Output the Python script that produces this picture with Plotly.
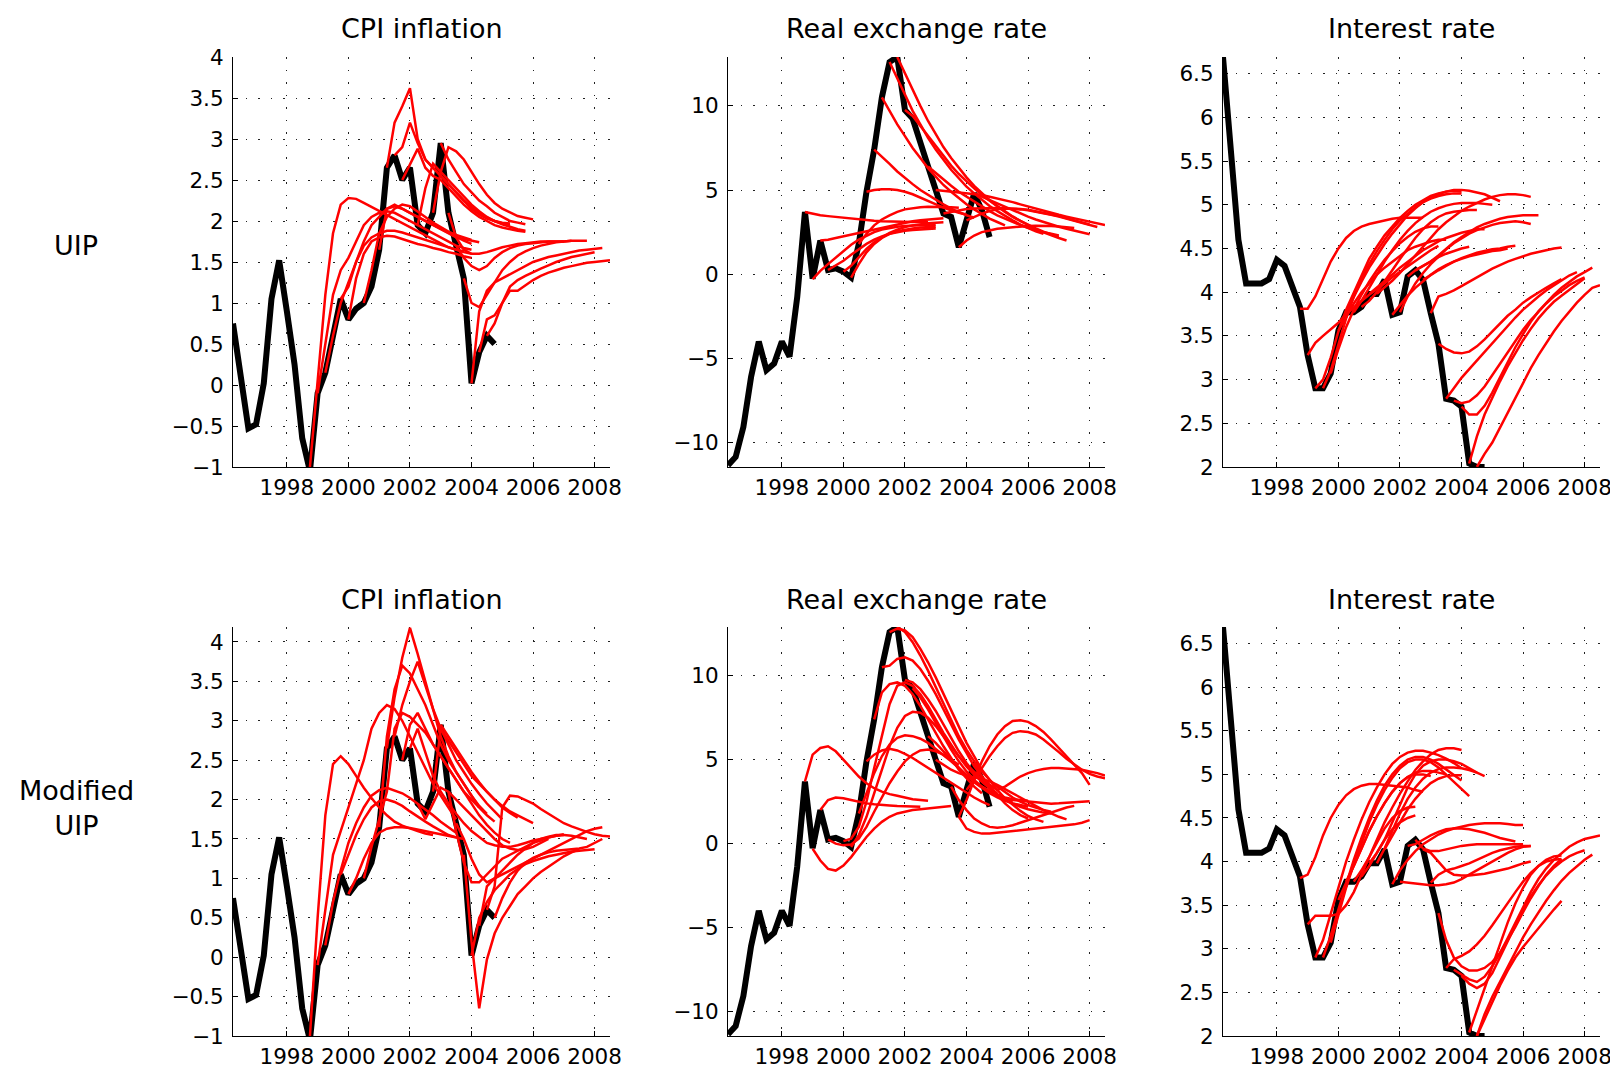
import plotly.graph_objects as go

# ---------------- data ----------------
hist_start = 1996.25  # first quarter of the actual series (quarterly steps)

cpi_actual = [0.75, 0.1, -0.53, -0.48, 0.02, 1.05, 1.52, 0.9, 0.25, -0.65,
              -1.05, -0.1, 0.15, 0.6, 1.05, 0.8, 0.93, 1.0, 1.2, 1.65,
              2.65, 2.8, 2.5, 2.65, 1.95, 1.85, 2.1, 2.95, 2.1, 1.7,
              1.3, 0.02, 0.4, 0.6, 0.5]
rer_actual = [-11.35, -10.85, -9.07, -6.1, -4.0, -5.7, -5.3, -4.0, -4.9, -1.35,
              3.7, -0.26, 2.0, 0.25, 0.35, 0.15, -0.2, 1.8, 4.9, 7.4,
              10.5, 12.6, 12.9, 9.75, 9.25, 7.95, 6.4, 5.0, 3.6, 3.4,
              1.6, 3.2, 4.8, 3.8, 2.2]
rate_actual = [6.69, 5.63, 4.6, 4.1, 4.1, 4.1, 4.15, 4.37, 4.3, 4.07,
               3.83, 3.28, 2.9, 2.9, 3.07, 3.56, 3.77, 3.77, 3.83, 3.98,
               3.98, 4.14, 3.74, 3.77, 4.18, 4.25, 4.14, 3.76, 3.41, 2.78,
               2.76, 2.69, 2.04, 2.0, 2.0]

# forecasts: (start quarter, quarterly values)
uip_cpi_fc = [
    (1998.75, [-1.0, 0.1, 1.1, 1.85, 2.2, 2.28, 2.27, 2.22, 2.17, 2.12, 2.07, 2.02, 1.97, 1.92, 1.87, 1.82, 1.77, 1.72, 1.68, 1.65, 1.63]),
    (1999.0, [-0.1, 0.5, 1.1, 1.4, 1.55, 1.75, 1.95, 2.05, 2.1, 2.12, 2.1, 2.05, 2.0, 1.95, 1.9, 1.85, 1.8, 1.75, 1.7, 1.67, 1.65]),
    (1999.25, [0.15, 0.6, 1.0, 1.25, 1.5, 1.75, 1.95, 2.05, 2.15, 2.18, 2.15, 2.1, 2.05, 2.0, 1.95, 1.9, 1.85, 1.8, 1.76, 1.72]),
    (1999.75, [1.05, 1.2, 1.5, 1.7, 1.8, 1.85, 1.88, 1.88, 1.86, 1.83, 1.8, 1.77, 1.74, 1.71, 1.68, 1.65, 1.62, 1.6]),
    (2000.0, [0.8, 1.3, 1.6, 1.75, 1.8, 1.82, 1.81, 1.78, 1.75, 1.72, 1.7, 1.67, 1.65, 1.62, 1.6, 1.57, 1.55]),
    (2000.5, [1.0, 1.4, 1.85, 2.05, 2.15, 2.2, 2.18, 2.12, 2.05, 1.98, 1.92, 1.87, 1.83, 1.8, 1.77]),
    (2001.0, [1.65, 2.15, 2.2, 2.15, 2.1, 2.05, 2.0, 1.95, 1.9, 1.85, 1.8, 1.78, 1.76, 1.74]),
    (2001.25, [2.65, 3.2, 3.4, 3.62, 3.0, 2.75, 2.65, 2.55, 2.45, 2.35, 2.25, 2.15, 2.08, 2.03, 2.0, 1.98, 1.97]),
    (2001.5, [2.8, 2.9, 3.2, 2.95, 2.75, 2.65, 2.55, 2.45, 2.35, 2.25, 2.17, 2.1, 2.04, 2.0, 1.97, 1.95]),
    (2001.75, [2.5, 2.7, 2.88, 2.65, 2.55, 2.5, 2.4, 2.3, 2.2, 2.12, 2.05, 2.0, 1.95, 1.92, 1.9, 1.88, 1.87]),
    (2002.25, [1.95, 2.4, 2.7, 2.6, 2.5, 2.4, 2.3, 2.2, 2.12, 2.05, 2.0, 1.96, 1.93, 1.9, 1.88]),
    (2002.75, [2.1, 2.6, 2.9, 2.85, 2.75, 2.6, 2.45, 2.32, 2.22, 2.15, 2.1, 2.06, 2.04, 2.02]),
    (2003.0, [2.95, 2.75, 2.6, 2.45, 2.35, 2.25, 2.18, 2.1, 2.05, 2.0, 1.98, 1.96]),
    (2003.25, [2.1, 1.8, 1.65, 1.6, 1.6, 1.62, 1.65, 1.68, 1.7, 1.72, 1.73, 1.74, 1.75, 1.75, 1.75, 1.75]),
    (2003.5, [1.7, 1.55, 1.45, 1.4, 1.45, 1.55, 1.62, 1.67, 1.7, 1.72, 1.73, 1.74, 1.75, 1.75, 1.75, 1.76]),
    (2003.75, [1.3, 1.0, 0.95, 1.1, 1.25, 1.4, 1.5, 1.58, 1.63, 1.67, 1.7, 1.72, 1.74, 1.75, 1.76, 1.76, 1.76]),
    (2004.0, [0.02, 0.9, 1.15, 1.25, 1.3, 1.35, 1.4, 1.45, 1.5, 1.53, 1.56, 1.58, 1.6, 1.62, 1.64, 1.65, 1.66, 1.67]),
    (2004.25, [0.4, 0.8, 0.85, 1.0, 1.2, 1.28, 1.33, 1.38, 1.42, 1.46, 1.5, 1.53, 1.56, 1.58, 1.6, 1.62]),
    (2004.5, [0.6, 0.75, 1.0, 1.15, 1.15, 1.22, 1.28, 1.33, 1.37, 1.4, 1.43, 1.45, 1.47, 1.49, 1.5, 1.51, 1.52]),
]

uip_rer_fc = [
    (1998.75, [3.7, 3.6, 3.5, 3.45, 3.4, 3.35, 3.3, 3.25, 3.2, 3.18, 3.15, 3.13, 3.12, 3.1, 3.1, 3.1, 3.1]),
    (1999.0, [-0.3, 0.2, 0.6, 1.0, 1.4, 1.75, 2.05, 2.3, 2.5, 2.65, 2.75, 2.82, 2.87, 2.9, 2.92, 2.93, 2.94]),
    (1999.25, [2.0, 2.05, 2.15, 2.25, 2.35, 2.45, 2.55, 2.65, 2.75, 2.85, 2.95, 3.05, 3.15, 3.2, 3.25, 3.3, 3.32]),
    (1999.5, [0.25, 0.5, 0.8, 1.15, 1.5, 1.8, 2.05, 2.25, 2.4, 2.5, 2.58, 2.63, 2.67, 2.7, 2.72]),
    (2000.0, [0.15, 0.5, 1.0, 1.5, 1.9, 2.2, 2.45, 2.65, 2.8, 2.9, 2.98, 3.03, 3.06, 3.08]),
    (2000.25, [-0.2, 0.6, 1.3, 1.8, 2.15, 2.4, 2.55, 2.65, 2.72, 2.77, 2.8, 2.82]),
    (2000.5, [1.8, 2.4, 2.9, 3.25, 3.5, 3.7, 3.85, 3.93, 3.98, 4.0, 4.0, 4.0, 3.98, 3.95]),
    (2000.75, [4.9, 5.0, 5.05, 5.05, 5.0, 4.9, 4.75, 4.55, 4.35, 4.15, 3.95, 3.8, 3.65, 3.55]),
    (2001.0, [7.4, 7.0, 6.55, 6.1, 5.7, 5.35, 5.0, 4.7, 4.4, 4.15, 3.9, 3.7, 3.5, 3.35]),
    (2001.25, [10.5, 9.7, 8.9, 8.2, 7.5, 6.9, 6.3, 5.8, 5.3, 4.9, 4.5, 4.15, 3.85, 3.55, 3.3, 3.1, 2.9]),
    (2001.5, [12.6, 11.6, 10.6, 9.7, 8.9, 8.1, 7.4, 6.8, 6.2, 5.7, 5.2, 4.8, 4.4, 4.05, 3.75, 3.45, 3.2, 2.95, 2.75, 2.55, 2.4]),
    (2001.75, [12.9, 11.9, 10.9, 10.0, 9.1, 8.3, 7.55, 6.9, 6.3, 5.75, 5.25, 4.8, 4.4, 4.05, 3.72, 3.43, 3.17, 2.93, 2.72, 2.53, 2.37, 2.22]),
    (2002.0, [9.75, 9.4, 8.8, 8.2, 7.6, 7.0, 6.45, 5.95, 5.5, 5.1, 4.7, 4.35, 4.0, 3.7, 3.4, 3.15, 2.9, 2.68, 2.48, 2.3, 2.15, 2.0]),
    (2002.75, [6.4, 6.0, 5.6, 5.25, 4.9, 4.6, 4.3, 4.0, 3.75, 3.5, 3.3, 3.1, 2.92, 2.76, 2.62, 2.5, 2.4, 2.3]),
    (2003.0, [5.0, 4.95, 4.9, 4.85, 4.8, 4.75, 4.7, 4.6, 4.5, 4.4, 4.28, 4.15, 4.02, 3.9, 3.77, 3.65, 3.53, 3.42, 3.32, 3.22, 3.12, 3.02, 2.92]),
    (2003.25, [3.6, 3.7, 3.8, 3.87, 3.9, 3.92, 3.93, 3.93, 3.92, 3.9, 3.85, 3.8, 3.72, 3.63, 3.53, 3.42, 3.3, 3.18, 3.05, 2.92, 2.8]),
    (2003.75, [1.6, 2.0, 2.3, 2.5, 2.6, 2.7, 2.75, 2.8, 2.85, 2.87, 2.88, 2.88, 2.86, 2.83, 2.8, 2.75]),
    (2004.0, [3.2, 3.4, 3.6, 3.75, 3.85, 3.9, 3.9, 3.88, 3.83, 3.75, 3.65, 3.55, 3.45, 3.33, 3.2, 3.07, 2.95]),
    (2004.25, [4.8, 4.6, 4.4, 4.2, 4.0, 3.8, 3.6, 3.42, 3.25, 3.1, 2.95, 2.82, 2.7, 2.58, 2.47, 2.37]),
]

uip_rate_fc = [
    (1998.75, [3.81, 3.81, 3.95, 4.15, 4.35, 4.5, 4.62, 4.7, 4.75, 4.78, 4.8, 4.82, 4.84, 4.85, 4.85, 4.85, 4.85]),
    (1999.0, [3.28, 3.42, 3.5, 3.57, 3.65, 3.75, 3.83, 3.9, 3.97, 4.03, 4.1, 4.17, 4.23, 4.3, 4.36, 4.42, 4.48, 4.53]),
    (1999.25, [2.9, 3.0, 3.25, 3.55, 3.8, 4.0, 4.2, 4.38, 4.52, 4.65, 4.75, 4.85, 4.93, 5.0, 5.05, 5.1, 5.13, 5.15, 5.16, 5.15]),
    (1999.5, [2.9, 3.1, 3.4, 3.7, 3.95, 4.15, 4.32, 4.47, 4.6, 4.72, 4.82, 4.9, 4.97, 5.03, 5.07, 5.1, 5.12, 5.13, 5.13]),
    (1999.75, [3.07, 3.35, 3.6, 3.8, 3.97, 4.12, 4.25, 4.37, 4.47, 4.56, 4.63, 4.69, 4.73, 4.75, 4.75]),
    (2000.0, [3.56, 3.72, 3.87, 4.0, 4.1, 4.2, 4.28, 4.35, 4.42, 4.48, 4.52, 4.55, 4.58, 4.6, 4.6]),
    (2000.25, [3.77, 3.95, 4.12, 4.28, 4.42, 4.55, 4.67, 4.78, 4.88, 4.96, 5.03, 5.08, 5.12, 5.15, 5.17, 5.17, 5.16, 5.14, 5.12, 5.08, 5.04]),
    (2000.5, [3.77, 3.9, 4.05, 4.2, 4.35, 4.48, 4.6, 4.7, 4.79, 4.86, 4.92, 4.96, 4.99, 5.01, 5.02, 5.02, 5.02, 5.01, 5.0]),
    (2000.75, [3.83, 3.9, 4.0, 4.12, 4.25, 4.38, 4.5, 4.62, 4.72, 4.8, 4.86, 4.9, 4.92, 4.93, 4.94, 4.94]),
    (2001.0, [3.98, 4.05, 4.12, 4.2, 4.28, 4.35, 4.42, 4.48, 4.53, 4.58, 4.62, 4.65, 4.68, 4.7, 4.72, 4.72]),
    (2001.25, [3.98, 4.05, 4.13, 4.22, 4.32, 4.42, 4.52, 4.62, 4.72, 4.8, 4.87, 4.93, 4.98, 5.02, 5.06, 5.09, 5.11, 5.12, 5.12, 5.11, 5.09]),
    (2001.75, [3.74, 3.85, 3.96, 4.05, 4.13, 4.2, 4.26, 4.31, 4.35, 4.39, 4.42, 4.45, 4.47, 4.49, 4.5, 4.52, 4.53]),
    (2002.0, [3.77, 3.95, 4.1, 4.22, 4.32, 4.41, 4.49, 4.56, 4.62, 4.67, 4.71, 4.74, 4.77, 4.79, 4.8, 4.81, 4.8, 4.78]),
    (2002.25, [4.18, 4.25, 4.3, 4.35, 4.4, 4.44, 4.47, 4.5, 4.52]),
    (2002.5, [4.25, 4.3, 4.35, 4.42, 4.5, 4.57, 4.63, 4.69, 4.74, 4.78, 4.81, 4.84, 4.86, 4.87, 4.88, 4.88, 4.88]),
    (2002.75, [4.14, 4.2, 4.25, 4.3, 4.35, 4.38, 4.41, 4.43, 4.45, 4.47, 4.48, 4.5]),
    (2003.0, [3.76, 3.95, 3.98, 4.02, 4.07, 4.12, 4.17, 4.22, 4.27, 4.31, 4.35, 4.38, 4.41, 4.44, 4.46, 4.48, 4.5, 4.51]),
    (2003.25, [3.41, 3.35, 3.31, 3.3, 3.32, 3.38, 3.46, 3.55, 3.64, 3.73, 3.8, 3.88, 3.94, 4.0, 4.05, 4.1, 4.15]),
    (2003.5, [2.78, 2.9, 3.02, 3.12, 3.22, 3.32, 3.42, 3.52, 3.62, 3.71, 3.8, 3.88, 3.95, 4.02, 4.08, 4.14, 4.19, 4.23]),
    (2003.75, [2.76, 2.73, 2.75, 2.82, 2.92, 3.05, 3.18, 3.32, 3.45, 3.57, 3.68, 3.78, 3.87, 3.95, 4.02, 4.08, 4.13, 4.17]),
    (2004.0, [2.69, 2.6, 2.6, 2.7, 2.85, 3.02, 3.2, 3.37, 3.52, 3.66, 3.78, 3.88, 3.97, 4.05, 4.12, 4.18, 4.23, 4.28]),
    (2004.25, [2.04, 2.35, 2.6, 2.8, 2.98, 3.15, 3.3, 3.45, 3.58, 3.7, 3.8, 3.89, 3.96, 4.03, 4.1, 4.16]),
    (2004.5, [2.0, 2.15, 2.28, 2.45, 2.62, 2.8, 2.97, 3.13, 3.28, 3.42, 3.55, 3.67, 3.78, 3.88, 3.97, 4.05, 4.08]),
]

mod_cpi_fc = [
    (1998.75, [-1.0, 0.5, 1.8, 2.45, 2.55, 2.45, 2.3, 2.15, 2.02, 1.9, 1.8, 1.72, 1.67, 1.63, 1.6, 1.57, 1.55]),
    (1999.0, [-0.1, 0.6, 1.3, 1.6, 1.9, 2.2, 2.5, 2.9, 3.1, 3.2, 3.15, 3.0, 2.8, 2.6, 2.4, 2.2, 2.05, 1.9, 1.75]),
    (1999.25, [0.15, 0.7, 1.1, 1.45, 1.7, 1.9, 2.05, 2.12, 2.15, 2.12, 2.08, 2.02, 1.95, 1.88, 1.8, 1.72, 1.65, 1.58]),
    (1999.75, [1.05, 1.3, 1.55, 1.75, 1.9, 1.98, 2.0, 1.97, 1.92, 1.85, 1.78, 1.72, 1.66, 1.6, 1.55, 1.52]),
    (2000.0, [0.8, 1.0, 1.25, 1.45, 1.58, 1.63, 1.65, 1.65, 1.64, 1.62, 1.6, 1.58, 1.56, 1.54, 1.52, 1.5]),
    (2000.5, [1.0, 1.4, 1.75, 2.1, 2.9, 3.1, 3.05, 2.95, 2.85, 2.7, 2.55, 2.4, 2.25, 2.1, 1.95, 1.8, 1.68, 1.58, 1.5, 1.45]),
    (2001.0, [1.65, 2.8, 3.4, 3.7, 3.6, 3.4, 3.2, 2.95, 2.7, 2.5, 2.35, 2.2, 2.05, 1.9]),
    (2001.25, [2.65, 3.3, 3.8, 4.18, 3.85, 3.5, 3.15, 2.8, 2.55, 2.35, 2.2, 2.05, 1.92, 1.82]),
    (2001.5, [2.8, 3.2, 3.5, 3.75, 3.45, 3.15, 2.9, 2.7, 2.5, 2.35, 2.2, 2.07, 1.95, 1.85, 1.75]),
    (2001.75, [2.5, 2.95, 3.1, 2.9, 2.7, 2.55, 2.4, 2.25, 2.1, 2.0, 1.9, 1.8, 1.72]),
    (2002.0, [2.65, 2.9, 2.6, 2.3, 2.1, 1.95, 1.82, 1.7, 1.6, 1.52, 1.45, 1.42, 1.4, 1.4, 1.42, 1.45, 1.48, 1.5, 1.52, 1.54, 1.55]),
    (2002.25, [1.95, 1.75, 1.95, 2.15, 2.1, 2.0, 1.9, 1.8, 1.7, 1.6, 1.5, 1.42, 1.38, 1.36, 1.37, 1.4, 1.45, 1.5]),
    (2002.75, [2.1, 2.9, 2.75, 2.6, 2.45, 2.3, 2.2, 2.1, 2.0, 1.92, 1.85, 1.8, 1.75, 1.7]),
    (2003.0, [2.95, 2.8, 2.65, 2.5, 2.35, 2.22, 2.1, 2.0, 1.9, 1.83, 1.77]),
    (2003.25, [2.1, 1.6, 1.2, 0.95, 0.95, 1.05, 1.15, 1.25, 1.3, 1.35, 1.4, 1.45, 1.48, 1.52, 1.54, 1.56]),
    (2003.5, [1.7, 1.5, 1.25, 1.05, 0.95, 1.0, 1.1, 1.2, 1.3, 1.38, 1.45, 1.5, 1.53, 1.55, 1.55, 1.54, 1.52, 1.5]),
    (2003.75, [1.3, 0.2, -0.65, -0.03, 0.3, 0.5, 0.65, 0.8, 0.9, 1.0, 1.08, 1.15, 1.22, 1.28, 1.33, 1.37]),
    (2004.0, [0.02, 0.5, 0.7, 0.85, 0.95, 1.05, 1.12, 1.18, 1.22, 1.25, 1.28, 1.3, 1.32, 1.34, 1.35, 1.36, 1.37]),
    (2004.25, [0.4, 0.9, 1.0, 1.05, 1.1, 1.15, 1.2, 1.25, 1.3, 1.35, 1.4, 1.45, 1.5, 1.55, 1.6, 1.63, 1.65]),
    (2004.5, [0.6, 0.9, 1.9, 2.05, 2.04, 2.0, 1.95, 1.88, 1.82, 1.76, 1.7, 1.66, 1.62, 1.59, 1.56, 1.54, 1.53]),
    (2004.75, [0.5, 0.75, 0.95, 1.1, 1.2, 1.26, 1.3, 1.33, 1.35, 1.36, 1.37, 1.38, 1.4, 1.45, 1.5]),
]

mod_rer_fc = [
    (1998.75, [3.7, 5.3, 5.7, 5.8, 5.5, 5.0, 4.5, 4.0, 3.6, 3.3, 3.1, 2.95, 2.85, 2.75, 2.65, 2.6, 2.55]),
    (1999.0, [-0.3, -1.0, -1.5, -1.6, -1.3, -0.8, -0.2, 0.4, 0.9, 1.3, 1.6, 1.8, 1.9, 2.0, 2.05, 2.1, 2.15, 2.2, 2.25]),
    (1999.25, [2.0, 2.6, 2.75, 2.7, 2.6, 2.5, 2.4, 2.35, 2.3, 2.28, 2.25, 2.23, 2.22, 2.2]),
    (1999.5, [0.25, 0.0, -0.1, -0.05, 0.3, 1.0, 1.9, 2.8, 3.6, 4.3, 4.9, 5.3, 5.55, 5.6, 5.5, 5.3, 5.0, 4.7]),
    (2000.0, [0.15, 0.3, 1.0, 2.5, 4.5, 6.5, 8.3, 9.4, 9.6, 9.4, 8.9, 8.2, 7.4, 6.6, 5.9, 5.2, 4.6, 4.1, 3.7, 3.3, 3.0]),
    (2000.25, [-0.2, 0.5, 1.6, 3.0, 4.5, 5.8, 6.9, 7.6, 7.85, 7.8, 7.5, 7.0, 6.4, 5.8, 5.2, 4.7, 4.25, 3.85, 3.5, 3.2]),
    (2000.5, [1.8, 3.0, 4.2, 5.2, 5.9, 6.3, 6.45, 6.4, 6.25, 6.0, 5.65, 5.3, 4.9, 4.5, 4.1, 3.7, 3.4, 3.1, 2.85, 2.65, 2.5]),
    (2000.75, [4.9, 5.3, 5.55, 5.65, 5.55, 5.35, 5.1, 4.8, 4.5, 4.2, 3.9, 3.6, 3.3, 3.0, 2.75, 2.5, 2.3]),
    (2001.0, [7.4, 9.0, 9.5, 9.6, 9.4, 8.9, 8.2, 7.4, 6.6, 5.8, 5.1, 4.4, 3.9, 3.4, 3.0]),
    (2001.25, [10.5, 10.6, 11.0, 11.1, 10.9, 10.4, 9.7, 8.9, 8.0, 7.1, 6.2, 5.4, 4.6, 4.0, 3.4, 2.9, 2.4, 2.0, 1.7, 1.5]),
    (2001.5, [12.6, 12.8, 12.7, 12.3, 11.6, 10.8, 9.9, 8.9, 7.9, 6.9, 6.0, 5.2, 4.4, 3.8, 3.2, 2.7, 2.3, 1.95, 1.65, 1.45, 1.3]),
    (2001.75, [12.9, 12.6, 12.0, 11.2, 10.3, 9.3, 8.3, 7.3, 6.4, 5.6, 4.9, 4.3, 3.8, 3.4, 3.05, 2.75, 2.5, 2.3, 2.15, 2.0, 1.9]),
    (2002.0, [9.75, 9.6, 9.2, 8.6, 7.9, 7.1, 6.3, 5.5, 4.8, 4.2, 3.7, 3.3, 2.95, 2.65, 2.4, 2.2, 2.05, 1.95, 1.85, 1.8]),
    (2002.25, [9.25, 8.7, 8.0, 7.2, 6.4, 5.6, 4.9, 4.3, 3.8, 3.4, 3.1, 2.9, 2.75, 2.65, 2.6, 2.55]),
    (2002.75, [6.4, 6.0, 5.5, 5.0, 4.5, 4.05, 3.65, 3.3, 3.0, 2.75, 2.55, 2.4, 2.3, 2.2]),
    (2003.0, [5.0, 4.7, 4.4, 4.2, 4.05, 3.95, 3.85, 3.7, 3.5, 3.25, 3.0, 2.75, 2.5, 2.25, 2.0, 1.8, 1.6, 1.45]),
    (2003.5, [3.4, 2.6, 2.0, 1.5, 1.2, 1.0, 0.95, 1.0, 1.1, 1.25, 1.4, 1.55, 1.7, 1.85, 2.0, 2.15, 2.25]),
    (2003.75, [1.6, 2.6, 3.8, 4.9, 5.8, 6.5, 7.0, 7.3, 7.35, 7.25, 7.0, 6.65, 6.2, 5.7, 5.2, 4.7, 4.2, 3.5]),
    (2003.75, [1.6, 0.9, 0.7, 0.6, 0.6, 0.65, 0.7, 0.75, 0.8, 0.85, 0.9, 0.95, 1.0, 1.05, 1.1, 1.15, 1.25, 1.4]),
    (2004.0, [3.2, 3.8, 4.5, 5.2, 5.8, 6.3, 6.6, 6.7, 6.65, 6.5, 6.2, 5.85, 5.45, 5.05, 4.7, 4.4, 4.15, 4.0, 3.9]),
    (2004.25, [4.8, 4.0, 3.5, 3.2, 3.4, 3.7, 4.0, 4.2, 4.35, 4.45, 4.5, 4.5, 4.48, 4.45, 4.4, 4.3, 4.2, 4.05]),
    (2004.5, [3.8, 3.3, 2.9, 2.7, 2.6, 2.55, 2.5, 2.45, 2.4, 2.38, 2.4, 2.43, 2.47, 2.5, 2.52]),
]

mod_rate_fc = [
    (1998.75, [3.81, 3.85, 4.05, 4.3, 4.5, 4.65, 4.76, 4.83, 4.87, 4.89, 4.89, 4.88, 4.87, 4.86, 4.85, 4.82, 4.8]),
    (1999.0, [3.28, 3.38, 3.38, 3.38, 3.4, 3.5, 3.65, 3.85, 4.05, 4.25, 4.45, 4.62, 4.78, 4.92, 5.05, 5.15, 5.23, 5.28, 5.3, 5.3, 5.28]),
    (1999.25, [2.9, 3.1, 3.4, 3.7, 4.0, 4.25, 4.48, 4.68, 4.85, 5.0, 5.12, 5.2, 5.25, 5.27, 5.27, 5.25, 5.22, 5.18, 5.13, 5.07]),
    (1999.5, [2.9, 3.15, 3.45, 3.75, 4.02, 4.27, 4.5, 4.7, 4.87, 5.0, 5.1, 5.17, 5.2, 5.2, 5.17, 5.12, 5.06, 5.0, 4.93]),
    (1999.75, [3.07, 3.4, 3.7, 3.97, 4.22, 4.45, 4.65, 4.82, 4.96, 5.07, 5.14, 5.17, 5.17, 5.14, 5.08, 5.0, 4.92, 4.83, 4.75]),
    (2000.0, [3.56, 3.75, 3.95, 4.15, 4.35, 4.52, 4.67, 4.8, 4.9, 4.97, 5.0, 5.0, 4.98]),
    (2000.25, [3.77, 3.95, 4.15, 4.35, 4.52, 4.67, 4.8, 4.9, 4.97, 5.02, 5.04, 5.04, 5.02, 5.0]),
    (2000.5, [3.77, 3.9, 4.05, 4.22, 4.38, 4.5, 4.58, 4.62, 4.63]),
    (2000.75, [3.83, 3.95, 4.1, 4.25, 4.37, 4.45, 4.5, 4.53]),
    (2001.0, [3.98, 4.1, 4.25, 4.45, 4.65, 4.85, 5.0, 5.1, 5.15, 5.17, 5.17, 5.15, 5.12, 5.07, 5.02]),
    (2001.25, [3.98, 4.15, 4.35, 4.55, 4.72, 4.85, 4.95, 5.02, 5.06, 5.08, 5.08, 5.07, 5.05, 5.02, 4.98]),
    (2001.5, [4.14, 4.3, 4.45, 4.6, 4.72, 4.82, 4.9, 4.95, 4.98, 4.99, 4.99]),
    (2001.75, [3.74, 3.9, 4.02, 4.12, 4.2, 4.26, 4.31, 4.35, 4.38, 4.4, 4.42, 4.43, 4.44, 4.44, 4.44, 4.43, 4.42, 4.42]),
    (2002.0, [3.77, 3.76, 3.75, 3.74, 3.73, 3.73, 3.74, 3.76, 3.8, 3.85, 3.9, 3.95, 4.0, 4.05, 4.1, 4.14, 4.17, 4.18]),
    (2002.25, [4.18, 4.2, 4.25, 4.3, 4.34, 4.37, 4.38, 4.38, 4.37, 4.35, 4.33, 4.3, 4.27, 4.25, 4.23]),
    (2002.5, [4.25, 4.15, 4.12, 4.12, 4.14, 4.16, 4.18, 4.19, 4.2, 4.2, 4.2, 4.2, 4.2, 4.2, 4.2]),
    (2002.75, [4.14, 4.1, 4.0, 3.9, 3.85, 3.84, 3.84, 3.85, 3.86, 3.88, 3.9, 3.92, 3.95, 3.98, 4.0]),
    (2003.0, [3.76, 3.85, 3.9, 3.92, 3.95, 3.98, 4.02, 4.06, 4.1, 4.13, 4.15, 4.17, 4.18, 4.18]),
    (2003.25, [3.41, 3.1, 2.9, 2.8, 2.75, 2.75, 2.78, 2.85, 2.95, 3.1, 3.25, 3.42, 3.58, 3.72, 3.85, 3.95, 4.03]),
    (2003.5, [2.78, 2.88, 2.92, 2.97, 3.05, 3.15, 3.27, 3.4, 3.53, 3.65, 3.77, 3.87, 3.95, 4.02, 4.06, 4.07]),
    (2003.75, [2.76, 2.7, 2.65, 2.62, 2.68, 2.8, 2.95, 3.12, 3.3, 3.48, 3.65, 3.8, 3.92, 4.02, 4.1, 4.17, 4.22, 4.26, 4.28, 4.3]),
    (2004.0, [2.69, 2.6, 2.55, 2.6, 2.72, 2.9, 3.08, 3.27, 3.45, 3.6, 3.73, 3.84, 3.93, 4.0, 4.06, 4.1, 4.13]),
    (2004.25, [2.04, 2.3, 2.55, 2.8, 3.05, 3.3, 3.52, 3.7, 3.85, 3.95, 4.0, 4.02, 4.03]),
    (2004.5, [2.0, 2.25, 2.45, 2.62, 2.8, 2.97, 3.13, 3.28, 3.42, 3.55, 3.67, 3.78, 3.87, 3.95, 4.02, 4.08]),
    (2004.5, [2.0, 2.2, 2.4, 2.58, 2.75, 2.9, 3.02, 3.13, 3.24, 3.35, 3.45, 3.55]),
]

panel_titles = ["CPI inflation", "Real exchange rate", "Interest rate"]
row_labels = ["UIP", "Modified<br>UIP"]
year_ticks = [1998, 2000, 2002, 2004, 2006, 2008]
cpi_ticks = [-1, -0.5, 0, 0.5, 1, 1.5, 2, 2.5, 3, 3.5, 4]
rer_ticks = [-10, -5, 0, 5, 10]
rate_ticks = [2, 2.5, 3, 3.5, 4, 4.5, 5, 5.5, 6, 6.5]

# ---------------- layout geometry ----------------
# the page body keeps an 8px margin, so the figure starts 8px in
OFF = 8
W, H = 1618 - OFF, 1081 - 2 * OFF
col_px = [(233, 610), (728, 1105), (1223, 1600)]
row_px = [(57, 467), (627, 1036)]
x_range = [1996.25, 2008.5]
y_ranges = [[[-1, 4], [-11.45, 12.9], [2, 6.69]],
            [[-1, 4.19], [-11.45, 12.9], [2, 6.69]]]
y_ticks = [cpi_ticks, rer_ticks, rate_ticks]
actuals = [cpi_actual, rer_actual, rate_actual]
forecasts = [[uip_cpi_fc, uip_rer_fc, uip_rate_fc],
             [mod_cpi_fc, mod_rer_fc, mod_rate_fc]]

FONT = "DejaVu Sans"


def px_x(p):
    return (p - OFF) / W


def px_y(p):
    return 1 - (p - OFF) / H


def quarters(start, n):
    return [start + 0.25 * i for i in range(n)]


def fmt(v):
    s = ("%g" % v)
    return s.replace("-", "\u2212")


fig = go.Figure()
layout = dict(width=W, height=H, autosize=False, margin=dict(l=0, r=0, t=0, b=0, pad=0),
              paper_bgcolor="white", plot_bgcolor="white", showlegend=False,
              font=dict(family=FONT, size=21, color="black"))
annotations = []

for r in range(2):
    for c in range(3):
        k = r * 3 + c + 1
        xa = "xaxis" if k == 1 else f"xaxis{k}"
        ya = "yaxis" if k == 1 else f"yaxis{k}"
        xref = "x" if k == 1 else f"x{k}"
        yref = "y" if k == 1 else f"y{k}"
        x0, x1 = col_px[c]
        y0, y1 = row_px[r]
        grid = dict(showgrid=True, gridcolor="#222", gridwidth=1.2, griddash="1.5px,11px")
        layout[xa] = dict(domain=[px_x(x0), px_x(x1)], range=x_range, anchor=yref,
                          tickvals=year_ticks, ticktext=[str(t) for t in year_ticks],
                          ticks="inside", ticklen=5, tickcolor="black",
                          showline=True, linecolor="black", linewidth=1.2,
                          zeroline=False, mirror=False, ticklabelstandoff=1,
                          automargin=False, ticklabeloverflow="allow",
                          tickfont=dict(family=FONT, size=21.5, color="black"), **grid)
        layout[ya] = dict(domain=[px_y(y1), px_y(y0)], range=y_ranges[r][c], anchor=xref,
                          tickvals=y_ticks[c], ticktext=[fmt(t) for t in y_ticks[c]],
                          ticks="inside", ticklen=5, tickcolor="black",
                          showline=True, linecolor="black", linewidth=1.2,
                          zeroline=False, mirror=False, ticklabelstandoff=4,
                          automargin=False, ticklabeloverflow="allow",
                          tickfont=dict(family=FONT, size=21.5, color="black"), **grid)
        act = actuals[c]
        fig.add_trace(go.Scatter(x=quarters(hist_start, len(act)), y=act, mode="lines",
                                 line=dict(color="black", width=6),
                                 xaxis=xref, yaxis=yref, hoverinfo="skip"))
        for start, vals in forecasts[r][c]:
            fig.add_trace(go.Scatter(x=quarters(start, len(vals)), y=vals, mode="lines",
                                     line=dict(color="#ff0000", width=2.5),
                                     xaxis=xref, yaxis=yref, hoverinfo="skip"))
        annotations.append(dict(text=panel_titles[c], xref="paper", yref="paper",
                                x=px_x((x0 + x1) / 2), y=px_y(y0 - 28),
                                xanchor="center", yanchor="middle", showarrow=False,
                                font=dict(family=FONT, size=27, color="black")))

annotations.append(dict(text=row_labels[0], xref="paper", yref="paper",
                        x=px_x(76), y=px_y(246), xanchor="center", yanchor="middle",
                        showarrow=False, font=dict(family=FONT, size=27, color="black")))
annotations.append(dict(text=row_labels[1], xref="paper", yref="paper",
                        x=px_x(76), y=px_y(808), xanchor="center", yanchor="middle",
                        showarrow=False, align="center",
                        font=dict(family=FONT, size=27, color="black")))
layout["annotations"] = annotations
fig.update_layout(**layout)
fig.write_html("out.html")
